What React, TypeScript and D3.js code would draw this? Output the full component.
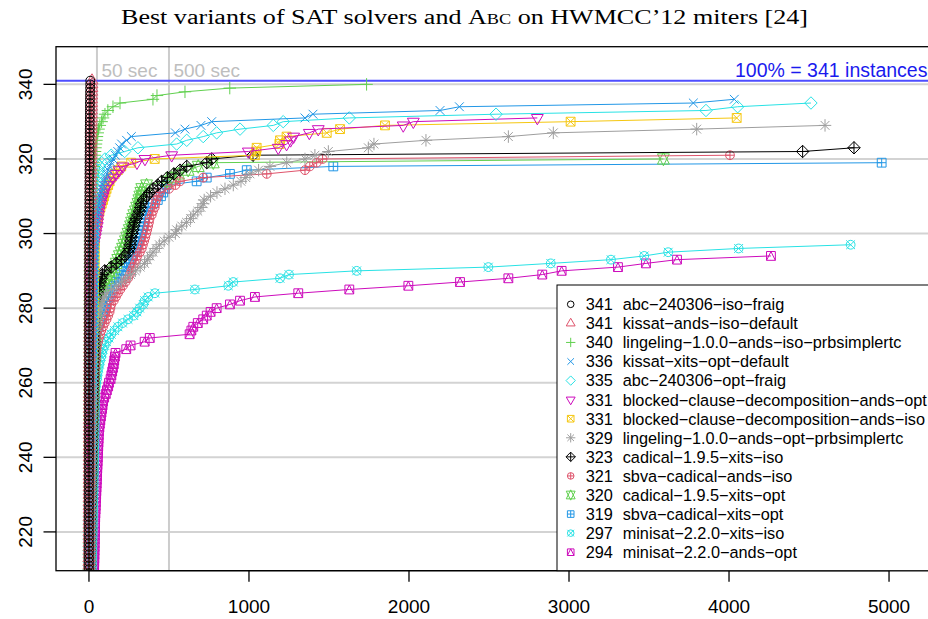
import React from "react";
import * as d3 from "d3";

const W = 928;
const H = 619;

// ---------------- data ----------------
const solverNames = [
  "abc−240306−iso−fraig",
  "kissat−ands−iso−default",
  "lingeling−1.0.0−ands−iso−prbsimplertc",
  "kissat−xits−opt−default",
  "abc−240306−opt−fraig",
  "blocked−clause−decomposition−ands−opt",
  "blocked−clause−decomposition−ands−iso",
  "lingeling−1.0.0−ands−opt−prbsimplertc",
  "cadical−1.9.5−xits−iso",
  "sbva−cadical−ands−iso",
  "cadical−1.9.5−xits−opt",
  "sbva−cadical−xits−opt",
  "minisat−2.2.0−xits−iso",
  "minisat−2.2.0−ands−opt",
];
const solvedCounts = [341, 341, 340, 336, 335, 331, 331, 329, 323, 321, 320, 319, 297, 294];
const totalInstances = 341;
const xTicks = [0, 1000, 2000, 3000, 4000, 5000];
const yTicks = [220, 240, 260, 280, 300, 320, 340];
const timeMarks = [50, 500];
const timeMarkLabels = ["50 sec", "500 sec"];

// sorted run times (sec); the last entry is the last solved instance
const tAbcIsoFraig = [
  0.1, 0.1, 0.1, 0.1, 0.1, 0.1, 0.1, 0.1, 0.1, 0.1,
  0.1, 0.1, 0.1, 0.1, 0.1, 0.1, 0.1, 0.1, 0.1, 0.1,
  0.1, 0.1, 0.1, 0.1, 0.2, 0.2, 0.2, 0.2, 0.2, 0.2,
  0.2, 0.2, 0.2, 0.2, 0.2, 0.2, 0.2, 0.2, 0.2, 0.2,
  0.3, 0.3, 0.3, 0.3, 0.3, 0.3, 0.3, 0.3, 0.3, 0.3,
  0.3, 0.3, 0.3, 0.4, 0.4, 0.4, 0.4, 0.4, 0.4, 0.4,
  0.4, 0.4, 0.5, 0.5, 0.5, 0.5, 0.5, 0.5, 0.6, 0.6,
  0.6, 0.6, 0.7, 0.7, 0.7, 0.7, 0.8, 0.8, 0.8, 0.9,
  0.9, 0.9, 1.0, 1.0, 1.1, 1.1, 1.2, 1.2, 1.3, 1.3,
  1.4, 1.4, 1.5, 1.5, 1.6, 1.7, 1.7, 1.8, 1.9, 2.0,
  2.0, 2.1, 2.2, 2.3, 2.4, 2.5, 2.6, 2.7, 2.8, 2.9,
  3.0, 3.1, 3.2, 3.3, 3.4, 3.5, 3.6, 3.7, 3.8, 3.9,
  4.0, 4.1, 4.2, 4.3, 4.4, 4.5, 4.6, 4.8, 5.0, 5.2,
  5.4, 5.6, 5.8, 6.0, 6.2, 6.5, 6.8, 7.2, 7.6, 8.0,
];
const tKissatAndsIso = [
  0.2, 0.2, 0.2, 0.3, 0.3, 0.3, 0.3, 0.4, 0.4, 0.4,
  0.4, 0.5, 0.5, 0.5, 0.5, 0.6, 0.6, 0.6, 0.7, 0.7,
  0.7, 0.8, 0.8, 0.8, 0.9, 0.9, 1.0, 1.0, 1.0, 1.1,
  1.1, 1.2, 1.2, 1.3, 1.3, 1.4, 1.4, 1.5, 1.5, 1.6,
  1.6, 1.7, 1.7, 1.8, 1.9, 1.9, 2.0, 2.1, 2.1, 2.2,
  2.3, 2.3, 2.4, 2.5, 2.6, 2.6, 2.7, 2.8, 2.9, 3.0,
  3.1, 3.2, 3.3, 3.4, 3.5, 3.6, 3.7, 3.8, 3.9, 4.0,
  4.1, 4.2, 4.4, 4.5, 4.6, 4.8, 4.9, 5.0, 5.2, 5.3,
  5.5, 5.6, 5.8, 5.9, 6.1, 6.2, 6.4, 6.5, 6.7, 6.9,
  7.0, 7.2, 7.4, 7.6, 7.8, 8.0, 8.2, 8.4, 8.6, 8.8,
  9.0, 9.2, 9.4, 9.6, 9.8, 10.0, 10.2, 10.4, 10.6, 10.8,
  11.0, 11.2, 11.4, 11.6, 11.8, 12.0, 12.2, 12.4, 12.6, 12.8,
  13.0, 13.2, 13.4, 13.6, 13.8, 14.0, 14.3, 14.6, 14.9, 15.2,
  15.5, 15.8, 16.1, 16.4, 16.7, 17.0, 17.5, 18.0, 18.5, 19.0,
];
const tLingelingIso = [
  0.3, 0.3, 0.3, 0.4, 0.4, 0.4, 0.4, 0.5, 0.5, 0.5,
  0.5, 0.6, 0.6, 0.6, 0.6, 0.7, 0.7, 0.7, 0.8, 0.8,
  0.8, 0.9, 0.9, 0.9, 1.0, 1.0, 1.0, 1.1, 1.1, 1.2,
  1.2, 1.2, 1.3, 1.3, 1.4, 1.4, 1.5, 1.5, 1.6, 1.6,
  1.7, 1.7, 1.8, 1.8, 1.9, 1.9, 2.0, 2.0, 2.1, 2.1,
  2.2, 2.2, 2.3, 2.3, 2.4, 2.4, 2.5, 2.5, 2.6, 2.6,
  2.7, 2.8, 2.8, 2.9, 3.0, 3.0, 3.1, 3.2, 3.2, 3.3,
  3.4, 3.5, 3.5, 3.6, 3.7, 3.8, 3.9, 4.0, 4.1, 4.2,
  4.3, 4.4, 4.5, 4.6, 4.7, 4.8, 4.9, 5.0, 5.1, 5.2,
  5.3, 5.4, 5.5, 5.6, 5.7, 5.8, 5.9, 6.0,
  7, 8, 9, 10, 11, 12, 13, 14, 15, 16, 17, 18, 19, 20, 22, 24,
  26, 28, 30, 32, 34, 36, 38, 41, 44, 47, 50,
  55, 60, 68, 79, 88, 100, 118, 150, 194, 400, 425, 600, 880, 1735,
];
const tKissatXitsOpt = [
  2, 2, 2.2, 2.4, 2.6, 2.8, 3, 3.2, 3.4, 3.6,
  3.8, 4, 4.2, 4.4, 4.6, 4.8, 5, 5.3, 5.6, 5.9,
  6.2, 6.5, 6.8, 7.1, 7.4, 7.7, 8, 8.3, 8.6, 8.9,
  9.2, 9.5, 9.8, 10.1, 10.4, 10.7, 11, 11.4, 11.8, 12.2,
  12.6, 13, 13.4, 13.8, 14.2, 14.6, 15, 15.5, 16, 16.5,
  17, 17.5, 18, 18.5, 19, 19.5, 20, 20.5, 21, 21.5,
  22, 22.5, 23, 23.5, 24, 24.5, 25, 25.5, 26, 26.5,
  27, 27.3, 27.6, 27.9, 28.2, 28.5, 28.8, 29.1, 29.4, 29.7,
  30, 30.2, 30.4, 30.6, 30.8, 31, 31.2, 31.4, 31.6, 31.8,
  32, 32.2, 32.4, 32.6, 32.8, 33, 33.2, 33.4,
  35, 37, 39, 42, 46, 50, 54, 58, 62, 67, 72, 78, 85,
  90, 100, 106, 112, 120, 130, 140, 150, 165, 180, 192, 204,
  235, 265, 540, 600, 700, 767, 1350, 1400, 2194, 2315, 3777, 4033,
];
const tAbcOptFraig = [
  1.5, 1.5, 1.6, 1.7, 1.8, 1.9, 2.0, 2.1, 2.2, 2.3,
  2.4, 2.5, 2.6, 2.7, 2.8, 3.0, 3.2, 3.4, 3.6, 3.8,
  4.0, 4.2, 4.4, 4.6, 4.8, 5.0, 5.3, 5.6, 5.9, 6.2,
  6.5, 6.8, 7.1, 7.4, 7.7, 8.0, 8.3, 8.6, 8.9, 9.2,
  9.5, 9.8, 10.1, 10.4, 10.7, 11, 11.3, 11.6, 11.9, 12.2,
  12.5, 12.8, 13.1, 13.4, 13.7, 14, 14.3, 14.6, 14.9, 15.2,
  15.5, 15.8, 16.1, 16.4, 16.7, 17, 17.3, 17.6, 17.9, 18.2,
  18.5, 18.8, 19.1, 19.4, 19.7, 20, 20.3, 20.6, 20.9, 21.2,
  21.5, 21.8, 22.1, 22.4, 22.7, 23, 23.3, 23.6, 23.9, 24.2,
  24.5, 24.8, 25, 25.2, 25.4, 25.6, 25.8, 26,
  26.5, 27, 28, 29, 30, 31, 32, 34, 36, 38, 40, 42, 45, 48, 51, 55, 60, 63,
  67, 80, 100, 139, 223, 306, 548, 611, 714, 798, 944, 1152, 1214, 1627, 2544, 3856, 4054, 4512,
];
const tBcdAndsOpt = [
  2.0, 2.1, 2.2, 2.3, 2.4, 2.5, 2.6, 2.7, 2.8, 2.9,
  3.0, 3.1, 3.2, 3.4, 3.5, 3.6, 3.8, 3.9, 4.0, 4.2,
  4.3, 4.5, 4.6, 4.8, 4.9, 5.1, 5.2, 5.4, 5.5, 5.7,
  5.9, 6.0, 6.2, 6.4, 6.6, 6.8, 7.0, 7.2, 7.4, 7.6,
  7.8, 8.0, 8.2, 8.4, 8.6, 8.8, 9.0, 9.2, 9.4, 9.6,
  9.8, 10.0, 10.2, 10.5, 10.8, 11.0, 11.3, 11.6, 11.9, 12.2,
  12.5, 12.8, 13.1, 13.4, 13.7, 14.0, 14.3, 14.6, 14.9, 15.2,
  15.5, 15.8, 16.1, 16.4, 16.7, 17.0, 17.3, 17.6, 17.9, 18.2,
  18.4, 18.6, 18.8, 19.0, 19.2, 19.4, 19.6, 19.8, 20.0, 20.5,
  21, 22, 23, 24,
  25, 30, 35, 40, 44, 48, 52, 54, 56,
  60, 63, 68, 75, 80, 88, 95, 100, 115, 130, 150, 170, 190, 212,
  300, 350, 517, 996, 1183, 1235, 1260, 1279, 1377, 1433, 1964, 2027, 2802,
];
const tBcdAndsIso = [
  2.5, 2.6, 2.7, 2.8, 2.9, 3.0, 3.1, 3.2, 3.3, 3.4,
  3.5, 3.7, 3.9, 4.1, 4.3, 4.5, 4.7, 4.9, 5.1, 5.3,
  5.5, 5.8, 6.1, 6.4, 6.7, 7.0, 7.3, 7.6, 7.9, 8.2,
  8.5, 8.8, 9.1, 9.4, 9.7, 10.0, 10.4, 10.8, 11.2, 11.6,
  12.0, 12.4, 12.8, 13.2, 13.6, 14.0, 14.4, 14.8, 15.2, 15.6,
  16.0, 16.4, 16.8, 17.2, 17.6, 18.0, 18.4, 18.8, 19.2, 19.6,
  20.0, 20.4, 20.8, 21.2, 21.6, 22.0, 22.5, 23.0, 23.5, 24.0,
  24.5, 25.0, 25.5, 26.0, 26.5, 27.0, 27.5, 28.0, 28.5, 29.0,
  29.5, 30.0, 30.5, 31.0, 31.5, 32.0, 32.5, 33.0, 33.5, 34.0,
  34.3, 34.6, 34.9, 35.2, 35.5, 36.0, 37.0, 38.0,
  40, 44, 48, 52, 56, 60, 66, 72, 80, 88, 95, 103, 110, 120,
  129, 140, 160, 180, 202, 264, 411, 1037, 1045, 1048, 1190, 1194, 1235, 1486, 1569, 1850, 3010, 4048,
];
const tLingelingOpt = [
  3, 3.2, 3.5, 3.8, 4, 4.3, 4.6, 5, 5.3, 5.6,
  6, 6.3, 6.7, 7, 7.4, 7.8, 8.2, 8.6, 9, 9.4,
  9.8, 10.2, 10.6, 11, 11.4, 11.8, 12.2, 12.6, 13, 13.5,
  14, 14.5, 15, 15.5, 16, 16.5, 17, 17.5, 18, 18.5,
  19, 19.5, 20, 20.5, 21, 21.5, 22, 22.5, 23, 23.5,
  24, 24.5, 25, 25.5, 26, 26.5, 27, 27.5, 28, 28.5,
  29, 29.3, 29.6, 30, 30.3, 30.6, 31, 31.5, 32,
  33, 36, 40, 44, 48, 52, 56, 60, 65, 70,
  77, 85, 97, 111, 140, 170, 202, 230, 260, 290,
  320, 347, 365, 381, 400, 420, 440, 470, 500, 540,
  548, 580, 610, 635, 652, 680, 700, 714, 720, 760,
  800, 850, 902, 950, 980, 1006, 1060, 1131, 1236, 1350,
  1412, 1496, 1746, 1781, 2106, 2621, 2902, 3798, 4600,
];
const tCadicalXitsIso = [
  2, 2.2, 2.4, 2.6, 2.8, 3, 3.3, 3.6, 3.9, 4.2,
  4.5, 4.8, 5.1, 5.4, 5.7, 6, 6.4, 6.8, 7.2, 7.6,
  8, 8.4, 8.8, 9.2, 9.6, 10, 10.4, 10.8, 11.2, 11.6,
  12, 12.5, 13, 13.5, 14, 14.5, 15, 15.5, 16, 16.5,
  17, 17.5, 18, 18.5, 19, 19.5, 20, 20.5, 21, 21.5,
  22, 22.5, 23, 23.5, 24, 24.5, 25, 25.5, 26, 26.5,
  27, 27.5, 28, 28.5, 29, 29.5, 30, 30.3, 30.6, 31,
  31.2, 31.4, 31.6, 31.8, 32, 32.3, 32.6, 33,
  35, 40, 45, 50, 55, 60, 65, 70, 77, 85,
  98, 139, 170, 202, 225, 244, 252, 258, 262, 264,
  270, 275, 280, 286, 295, 305, 315, 322, 327, 340,
  360, 379, 400, 430, 454, 490, 530, 569, 611, 736,
  767, 1025, 4460, 4781,
];
const tSbvaAndsIso = [
  1.5, 1.7, 1.9, 2.1, 2.3, 2.5, 2.8, 3.1, 3.4, 3.7,
  4, 4.3, 4.6, 5, 5.4, 5.8, 6.2, 6.6, 7, 7.4,
  7.8, 8.2, 8.6, 9, 9.5, 10, 10.5, 11, 11.5, 12,
  12.5, 13, 13.5, 14, 14.5, 15, 15.5, 16, 16.5, 17,
  17.5, 18, 18.5, 19, 19.5, 20, 21, 22, 23, 24,
  25, 26, 27, 28, 29, 30, 31, 32, 33, 34,
  35, 36, 38, 40, 42, 44, 46, 48,
  50, 57, 63, 70, 77, 88, 98, 110, 120, 129,
  134, 139, 155, 168, 181, 196, 212, 228, 244, 255,
  266, 276, 286, 295, 303, 318, 330, 337, 345, 352,
  358, 364, 370, 375, 379, 392, 400, 411, 415, 420,
  432, 444, 500, 540, 569, 714, 1111, 1350, 1380, 1423,
  1460, 4006,
];
const tCadicalXitsOpt = [
  1.5, 1.7, 1.9, 2.1, 2.3, 2.5, 2.7, 2.9, 3.1, 3.3,
  3.6, 3.9, 4.2, 4.5, 4.8, 5.1, 5.4, 5.7, 6, 6.4,
  6.8, 7.2, 7.6, 8, 8.4, 8.8, 9.2, 9.6, 10, 10.5,
  11, 11.5, 12, 12.5, 13, 13.5, 14, 14.5, 15, 15.5,
  16, 16.5, 17, 17.5, 18, 18.5, 19, 19.5, 20, 21,
  22, 23, 24, 25, 26, 27, 28, 29, 30, 31,
  32, 33, 34, 35, 35.5, 36, 36.5, 37, 37.5, 38,
  38.5, 39, 39.3, 39.6, 40, 40.3, 40.6, 41, 41.5,
  42, 45, 55, 65, 77, 88, 105, 120, 135, 148,
  160, 170, 180, 190, 200, 210, 218, 228, 236, 244,
  252, 260, 266, 273, 280, 290, 298, 306, 312, 318,
  324, 330, 360, 486, 517, 560, 620, 683, 777, 3590,
];
const tSbvaXitsOpt = [
  1.8, 2, 2.2, 2.4, 2.6, 2.8, 3, 3.2, 3.5, 3.8,
  4.1, 4.4, 4.7, 5, 5.3, 5.6, 6, 6.4, 6.8, 7.2,
  7.6, 8, 8.4, 8.8, 9.2, 9.6, 10, 10.5, 11, 11.5,
  12, 12.5, 13, 13.5, 14, 14.5, 15, 15.5, 16, 16.5,
  17, 17.5, 18, 19, 20, 21, 22, 23, 24, 25,
  26, 27, 28, 29, 30, 31, 32, 33, 34, 35,
  36, 37, 38, 39, 40, 40.5, 41, 41.5, 42, 42.5,
  43,
  45, 52, 58, 65, 72, 80, 88, 96, 103, 110,
  122, 134, 146, 158, 170, 186, 202, 218, 234, 250,
  262, 274, 286, 295, 300, 310, 318, 326, 334, 340,
  345, 350, 355, 360, 369, 400, 430, 450, 464, 475,
  486, 673, 736, 881, 986, 1527, 4954,
];
const tMinisatXitsIso = [
  14, 14.5, 15, 15.5, 16, 16.5, 17, 17.5, 18, 18.5,
  19, 19.5, 20, 20.5, 21, 21.5, 22, 22.5, 23, 23.5,
  24, 24.5, 25, 25.5, 26, 26.5, 27, 27.5, 28, 28.5,
  29, 29.5, 30, 30.5, 31, 31.5, 32, 32.5, 33, 33.5,
  34, 34.3, 34.6, 34.9, 35.2, 35.5, 35.8, 36.1, 36.4, 36.7,
  37, 37.2, 37.4, 37.6, 37.8, 38,
  40, 43, 46, 50, 53, 56, 60, 65, 70, 77,
  82, 88, 98, 110, 125, 139, 160, 181, 210, 244,
  280, 300, 317, 339, 348, 370, 412, 662, 871, 902,
  1194, 1250, 1673, 2496, 2886, 3262, 3470, 3620, 4060, 4760,
];
const tMinisatAndsOpt = [
  28, 28.5, 29, 29.5, 30, 30.5, 31, 31.5, 32, 32.5,
  33, 33.5, 34, 34.5, 35, 35.5, 36, 36.5, 37, 37.5,
  38, 38.5, 39, 40, 41, 42, 43, 44, 45, 46,
  47, 48, 49, 50, 51, 52, 53, 54, 55, 56,
  57, 58, 59, 60, 61, 62,
  65, 68, 71, 75, 78, 82, 85, 88, 95, 105,
  112, 120, 125, 135, 140, 145, 150, 155, 158, 162,
  166, 233, 260, 348, 380, 629, 640, 652, 680, 714,
  736, 760, 798, 881, 944, 1037, 1308, 1627, 1996, 2319,
  2621, 2833, 2954, 3306, 3481, 3675, 4262,
];

const seriesTimes = [
  tAbcIsoFraig, tKissatAndsIso, tLingelingIso, tKissatXitsOpt, tAbcOptFraig,
  tBcdAndsOpt, tBcdAndsIso, tLingelingOpt, tCadicalXitsIso, tSbvaAndsIso,
  tCadicalXitsOpt, tSbvaXitsOpt, tMinisatXitsIso, tMinisatAndsOpt,
];

// ---------------- styles ----------------
const palette = ["#000000", "#DF536B", "#61D04F", "#2297E6", "#28E2E5", "#CD0BBC", "#F5C710", "#9E9E9E"];
const seriesColor = (i: number) => palette[i % 8];
const seriesPch = (i: number) => i + 1;

const SANS = "'Liberation Sans', Arial, Helvetica, sans-serif";

function markerPath(pch: number, r: number): string {
  const s2 = Math.SQRT2 * r;
  const circle = `M${-r},0A${r},${r} 0 1,0 ${r},0A${r},${r} 0 1,0 ${-r},0Z`;
  const sq = `M${-r},${-r}H${r}V${r}H${-r}Z`;
  const xs = (a: number) => `M${-a},${-a}L${a},${a}M${-a},${a}L${a},${-a}`;
  const plus = (a: number) => `M${-a},0H${a}M0,${-a}V${a}`;
  const diamond = `M0,${-s2}L${s2},0L0,${s2}L${-s2},0Z`;
  const t0 = 1.5551 * r, t1 = 1.3468 * r, t2 = 0.7776 * r;
  switch (pch) {
    case 1: return circle;
    case 2: return `M0,${-t0}L${t1},${t2}L${-t1},${t2}Z`;
    case 3: return plus(s2);
    case 4: return xs(r);
    case 5: return diamond;
    case 6: return `M0,${t0}L${t1},${-t2}L${-t1},${-t2}Z`;
    case 7: return sq + xs(r);
    case 8: return xs(r) + plus(s2);
    case 9: return diamond + plus(s2);
    case 10: return circle + plus(r);
    case 11: {
      const yc = 0.5 * (t2 + t0);
      return `M0,${-t0}L${t1},${yc}L${-t1},${yc}ZM0,${t0}L${t1},${-yc}L${-t1},${-yc}Z`;
    }
    case 12: return sq + plus(r);
    case 13: return circle + xs(r);
    case 14: return sq + `M${-r},${r}L0,${-r}L${r},${r}`;
    default: return circle;
  }
}

export default function App() {
  const left = 56, right = 946, top = 46.7, bottom = 570.7;
  const x = d3.scaleLinear().domain([-206, 5356]).range([left, right]);
  const y = d3.scaleLinear().domain([209.6, 350.1]).range([bottom, top]);

  const series = seriesTimes.map((times, i) => {
    const n = solvedCounts[i];
    const start = n - times.length + 1;
    return times.map((t, k) => [t, start + k] as [number, number]);
  });

  const line = d3
    .line<[number, number]>()
    .x((d) => x(d[0]))
    .y((d) => y(d[1]));

  const legendTop = 285;
  const legendLeft = 557;
  const rowH = 19.07;
  const legendFirst = 304.3;

  return (
    <svg
      width={W}
      height={H}
      viewBox={`0 0 ${W} ${H}`}
      style={{ position: "absolute", left: 0, top: 0, background: "#fff", display: "block" }}
      xmlns="http://www.w3.org/2000/svg"
    >
      <defs>
        <clipPath id="plotClip">
          <rect x={left} y={top} width={right - left} height={bottom - top} />
        </clipPath>
      </defs>
      <rect x={0} y={0} width={W} height={H} fill="#fff" />

      {/* title */}
      <text
        x={464.5}
        y={24}
        textAnchor="middle"
        fontFamily="'Liberation Serif', 'Times New Roman', serif"
        fontSize={20}
        textLength={687}
        lengthAdjust="spacingAndGlyphs"
        fill="#000"
      >
        Best variants of SAT solvers and <tspan style={{ fontVariant: "small-caps" }}>Abc</tspan> on HWMCC’12 miters [24]
      </text>

      {/* grid */}
      <g clipPath="url(#plotClip)">
        {yTicks.map((v) => (
          <line key={"gy" + v} x1={left} x2={right} y1={y(v)} y2={y(v)} stroke="#d3d3d3" strokeWidth={2} />
        ))}
        {timeMarks.map((v) => (
          <line key={"gx" + v} x1={x(v)} x2={x(v)} y1={top} y2={bottom} stroke="#cccccc" strokeWidth={2} />
        ))}
        <line x1={left} x2={right} y1={y(totalInstances)} y2={y(totalInstances)} stroke="#4d4dff" strokeWidth={2} />
      </g>
      {timeMarks.map((v, i) => (
        <text key={"tl" + v} x={x(v) + 4.5} y={76.5} fontFamily={SANS} fontSize={19} fill="#bebebe">
          {timeMarkLabels[i]}
        </text>
      ))}
      <text x={735} y={76.5} fontFamily={SANS} fontSize={19.5} fill="#1a1aee">
        100% = {totalInstances} instances
      </text>

      {/* data, last series first */}
      <g clipPath="url(#plotClip)">
        {series
          .map((pts, i) => ({ pts, i }))
          .reverse()
          .map(({ pts, i }) => {
            const col = seriesColor(i);
            const d = markerPath(seriesPch(i), 4.4);
            return (
              <g key={"s" + i}>
                <path d={line(pts) || ""} fill="none" stroke={col} strokeWidth={1} />
                {pts.map((p, k) => (
                  <path
                    key={k}
                    d={d}
                    transform={`translate(${x(p[0])},${y(p[1])})`}
                    fill="none"
                    stroke={col}
                    strokeWidth={1}
                  />
                ))}
              </g>
            );
          })}
      </g>

      {/* box */}
      <rect x={left} y={top} width={right - left} height={bottom - top} fill="none" stroke="#000" strokeWidth={1.3} />

      {/* y axis */}
      {yTicks.map((v) => (
        <g key={"yt" + v}>
          <line x1={left - 12.5} x2={left} y1={y(v)} y2={y(v)} stroke="#000" strokeWidth={1.3} />
          <text
            transform={`translate(32,${y(v)}) rotate(-90)`}
            textAnchor="middle"
            fontFamily={SANS}
            fontSize={19}
            fill="#000"
          >
            {v}
          </text>
        </g>
      ))}

      {/* x axis */}
      <line x1={x(xTicks[0])} x2={x(xTicks[xTicks.length - 1])} y1={bottom} y2={bottom} stroke="#000" strokeWidth={1.3} />
      {xTicks.map((v) => (
        <g key={"xt" + v}>
          <line x1={x(v)} x2={x(v)} y1={bottom} y2={bottom + 11} stroke="#000" strokeWidth={1.3} />
          <text x={x(v)} y={613} textAnchor="middle" fontFamily={SANS} fontSize={19} fill="#000">
            {v}
          </text>
        </g>
      ))}

      {/* legend */}
      <rect
        x={legendLeft}
        y={legendTop}
        width={right - legendLeft}
        height={bottom - legendTop}
        fill="#fff"
        stroke="#000"
        strokeWidth={1}
      />
      {solverNames.map((name, i) => {
        const yy = legendFirst + rowH * i;
        return (
          <g key={"lg" + i}>
            <path
              d={markerPath(seriesPch(i), 3.3)}
              transform={`translate(570.7,${yy})`}
              fill="none"
              stroke={seriesColor(i)}
              strokeWidth={1}
            />
            <text x={585.7} y={yy} dy="0.36em" fontFamily={SANS} fontSize={16.3} fill="#000">
              {solvedCounts[i]}
            </text>
            <text x={622.7} y={yy} dy="0.36em" fontFamily={SANS} fontSize={16.3} fill="#000">
              {name}
            </text>
          </g>
        );
      })}
    </svg>
  );
}
